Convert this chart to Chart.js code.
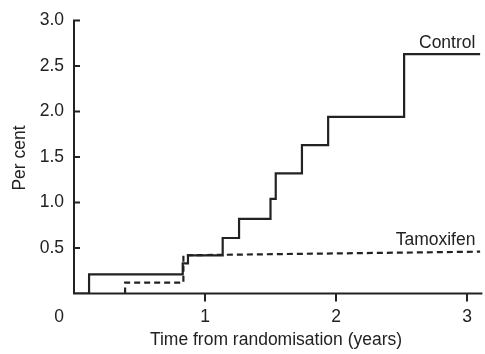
<!DOCTYPE html>
<html>
<head>
<meta charset="utf-8">
<script src="https://cdn.jsdelivr.net/npm/chart.js@4.4.0/dist/chart.umd.min.js"></script>
<style>
  html, body { margin: 0; padding: 0; background: #fff; }
  #wrap { width: 485px; height: 354px; position: relative; }
</style>
</head>
<body>
<div id="wrap"><canvas id="riskChart"></canvas></div>
<script>
// time in years, cumulative per cent
const controlTimes = [0, 0.115, 0.83, 0.87, 1.135, 1.26, 1.50, 1.54, 1.74, 1.94, 2.52, 3.11];
const controlValues = [0, 0.21, 0.33, 0.42, 0.61, 0.82, 1.04, 1.32, 1.63, 1.94, 2.63, 2.63];

const tamoxTimes = [0.39, 0.39, 0.835, 0.835, 3.11];
const tamoxValues = [0, 0.12, 0.12, 0.42, 0.46];

const xTicks = [1, 2, 3];
const yTicks = [0.5, 1.0, 1.5, 2.0, 2.5, 3.0];

const ink = "#222";
const fontFamily = "'Liberation Sans', Arial, sans-serif";
const fontSize = 17.5;

function toPoints(xs, ys) {
    return xs.map((x, i) => ({x: x, y: ys[i]}));
}

// axes, inward y ticks, outward x ticks and the text labels
const axesPlugin = {
    id: "axesPlugin",
    afterDraw(chart) {
        let ctx = chart.ctx;
        let xs = chart.scales.x;
        let ys = chart.scales.y;
        let x0 = xs.getPixelForValue(0);
        let y0 = ys.getPixelForValue(0);
        let xEnd = xs.getPixelForValue(3.11);
        let yTop = ys.getPixelForValue(3.0);

        ctx.save();
        ctx.strokeStyle = ink;
        ctx.lineWidth = 2;
        ctx.lineCap = "square";
        ctx.beginPath();
        ctx.moveTo(x0, yTop);
        ctx.lineTo(x0, y0);
        ctx.lineTo(xEnd, y0);
        yTicks.forEach(v => {
            let py = ys.getPixelForValue(v);
            ctx.moveTo(x0, py);
            ctx.lineTo(x0 + 5, py);
        });
        xTicks.forEach(v => {
            let px = xs.getPixelForValue(v);
            ctx.moveTo(px, y0);
            ctx.lineTo(px, y0 + 7);
        });
        ctx.stroke();

        ctx.fillStyle = ink;
        ctx.font = fontSize + "px " + fontFamily;
        ctx.textBaseline = "middle";
        ctx.textAlign = "center";
        ctx.fillText("0", x0 - 15, 317);
        ctx.fillText("Time from randomisation (years)", 276, 340);

        ctx.textBaseline = "alphabetic";
        ctx.textAlign = "right";
        ctx.fillText("Control", xEnd - 6, ys.getPixelForValue(2.63) - 6);
        ctx.fillText("Tamoxifen", xEnd - 6, ys.getPixelForValue(0.46) - 7);

        ctx.translate(20, 158);
        ctx.rotate(-Math.PI / 2);
        ctx.textAlign = "center";
        ctx.textBaseline = "middle";
        ctx.fillText("Per cent", 0, 0);
        ctx.restore();
    }
};

let riskChart = new Chart(document.getElementById("riskChart"), {
    type: "line",
    data: {
        datasets: [{
            label: "Control",
            data: toPoints(controlTimes, controlValues),
            borderColor: ink,
            borderWidth: 2.2,
            stepped: true,
            pointRadius: 0,
            fill: false
        }, {
            label: "Tamoxifen",
            data: toPoints(tamoxTimes, tamoxValues),
            borderColor: ink,
            borderWidth: 2.2,
            borderDash: [6, 4],
            pointRadius: 0,
            fill: false
        }]
    },
    options: {
        responsive: true,
        maintainAspectRatio: false,
        animation: false,
        layout: {padding: {top: 20, right: 4, left: 0, bottom: 0}},
        plugins: {legend: {display: false}, tooltip: {enabled: false}},
        scales: {
            x: {
                type: "linear",
                min: 0,
                max: 3.1,
                afterBuildTicks: s => { s.ticks = xTicks.map(v => ({value: v})); },
                afterFit: s => { s.height = 60.5; },
                grid: {display: false, drawTicks: false},
                border: {display: false},
                ticks: {
                    color: ink,
                    font: {family: fontFamily, size: fontSize},
                    padding: 13,
                    maxRotation: 0
                }
            },
            y: {
                min: 0,
                max: 3.0,
                afterBuildTicks: s => { s.ticks = yTicks.map(v => ({value: v})); },
                afterFit: s => { s.width = 74; },
                grid: {display: false, drawTicks: false},
                border: {display: false},
                ticks: {
                    color: ink,
                    font: {family: fontFamily, size: fontSize},
                    padding: 10,
                    callback: v => v.toFixed(1)
                }
            }
        }
    },
    plugins: [axesPlugin]
});
</script>
</body>
</html>
